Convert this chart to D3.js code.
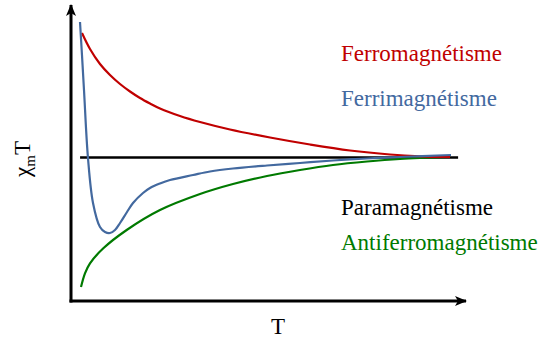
<!DOCTYPE html>
<html><head><meta charset="utf-8">
<script src="https://cdn.jsdelivr.net/npm/d3@7"></script>
<style>
body{margin:0;background:#fff}svg{display:block}
text{font-family:"Liberation Serif","Tinos","Times New Roman","Times","DejaVu Serif",serif}
</style>
</head><body>
<svg id="c" width="542" height="340"></svg>
<script>
// Data (T in arbitrary units 0..100, chi_m*T in arbitrary units 0..100)
const paraT   = [2.3, 98];
const paraChi = [48.5, 48.5];
const ferroT   = [2.78, 4.81, 7.34, 9.87, 12.41, 14.94, 17.47, 20.0, 22.53, 27.59, 32.66, 40.25, 50.38, 60.51, 70.63, 80.76, 88.35, 95.95];
const ferroChi = [90.54, 85.14, 80.07, 76.35, 73.31, 70.78, 68.58, 66.72, 65.03, 62.5, 60.47, 57.94, 55.24, 52.87, 50.84, 49.49, 48.89, 48.65];
const ferriT   = [2.28, 2.78, 3.29, 4.30, 5.57, 7.34, 8.61, 9.87, 11.14, 12.41, 14.18, 15.70, 18.23, 20.0, 22.53, 25.06, 30.89, 35.19, 41.01, 49.62, 57.97, 66.33, 74.94, 83.29, 96.2];
const ferriChi = [94.26, 83.11, 71.28, 48.31, 33.11, 25.0, 23.31, 22.97, 23.99, 26.35, 30.07, 33.11, 36.49, 38.18, 39.70, 40.88, 42.57, 43.75, 44.76, 45.78, 46.62, 47.47, 48.14, 48.65, 49.32];
const antiT   = [2.53, 3.54, 4.81, 8.18, 14.10, 22.53, 32.66, 41.01, 49.62, 57.97, 66.33, 74.94, 83.29, 95.95];
const antiChi = [4.73, 9.36, 12.74, 17.80, 23.99, 30.74, 36.15, 39.53, 42.23, 44.26, 45.95, 47.13, 47.97, 48.65];
const legendLabels = ["Ferromagnétisme", "Ferrimagnétisme", "Paramagnétisme", "Antiferromagnétisme"];
const xLabel = "T";

const svg = d3.select("#c");
const x = d3.scaleLinear().domain([0, 100]).range([71, 466]);
const y = d3.scaleLinear().domain([0, 100]).range([301, 5]);

const defs = svg.append("defs");
defs.append("marker").attr("id", "arr").attr("viewBox", "0 -5 12 10")
  .attr("refX", 11).attr("refY", 0).attr("markerWidth", 12).attr("markerHeight", 10)
  .attr("markerUnits", "userSpaceOnUse").attr("orient", "auto")
  .append("path").attr("d", "M0,-5 L12,0 L0,5 L3,0 Z").attr("fill", "#000");

// axes
svg.append("line").attr("x1", x(0) - 1.5).attr("y1", y(0)).attr("x2", x(100)).attr("y2", y(0))
  .attr("stroke", "#000").attr("stroke-width", 3).attr("marker-end", "url(#arr)");
svg.append("line").attr("x1", x(0)).attr("y1", y(0) + 1.5).attr("x2", x(0)).attr("y2", y(100))
  .attr("stroke", "#000").attr("stroke-width", 3).attr("marker-end", "url(#arr)");

const line = d3.line().x(d => x(d[0])).y(d => y(d[1])).curve(d3.curveCatmullRom.alpha(0.5));
const series = [
  {t: paraT, c: paraChi, col: "#000000", w: 2.5},
  {t: antiT, c: antiChi, col: "#007a00", w: 2.2},
  {t: ferroT, c: ferroChi, col: "#c00000", w: 2.2},
  {t: ferriT, c: ferriChi, col: "#43699f", w: 2.2}
];
series.forEach(s => {
  svg.append("path").datum(d3.zip(s.t, s.c)).attr("d", line)
    .attr("fill", "none").attr("stroke", s.col).attr("stroke-width", s.w);
});

const leg = [
  {t: legendLabels[0], col: "#c00000", y: 61},
  {t: legendLabels[1], col: "#43699f", y: 106},
  {t: legendLabels[2], col: "#000000", y: 215},
  {t: legendLabels[3], col: "#007a00", y: 250}
];
leg.forEach(l => {
  svg.append("text").attr("x", 341).attr("y", l.y).attr("fill", l.col)
    .attr("font-size", 23).text(l.t);
});

svg.append("text").attr("x", 278).attr("y", 334).attr("text-anchor", "middle")
  .attr("font-size", 23).text(xLabel);

const yl = svg.append("text").attr("transform", "translate(30,159) rotate(-90)")
  .attr("text-anchor", "middle").attr("font-size", 23);
yl.append("tspan").text("χ");
yl.append("tspan").attr("font-size", 15).attr("dy", 5).text("m");
yl.append("tspan").attr("dy", -5).text("T");
</script>
</body></html>
